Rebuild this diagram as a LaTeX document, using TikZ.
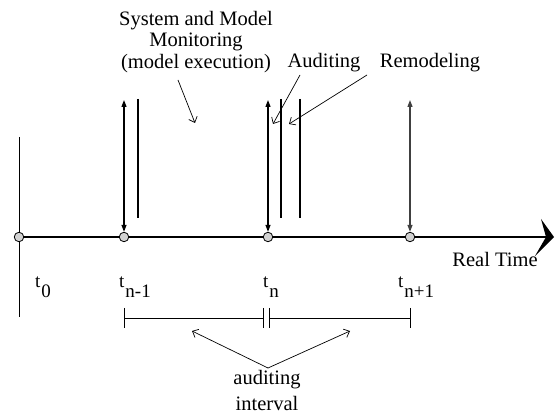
\documentclass[tikz,border=0pt]{standalone}
\usepackage{fontspec}
\setmainfont{Liberation Serif}
\usetikzlibrary{arrows.meta}
\begin{document}
\begin{tikzpicture}[x=1pt, y=-1pt,
  txt/.style={inner sep=0pt, align=center, font=\fontsize{20.5}{21.5}\selectfont},
  tlabel/.style={inner sep=0pt, anchor=base west, font=\fontsize{19}{20}\selectfont},
  instant/.style={circle, draw, fill=gray!35, inner sep=0pt, minimum size=9.5pt, line width=0.8pt},
  axisline/.style={line width=1.2pt},
  dblarrow/.style={line width=1.2pt, {Triangle[length=7pt,width=5pt]}-{Triangle[length=7pt,width=5pt]}},
  phasebar/.style={line width=1.8pt},
  pointer/.style={line width=0.7pt, -{Straight Barb[length=5pt,width=9pt]}},
  interval/.style={line width=1pt}]
\useasboundingbox (0,0) rectangle (555,414);

% time axis and origin
\coordinate (axend) at (546,237);
\coordinate (ltop) at (19,137);
\coordinate (lbot) at (19,317);
\draw[line width=1pt] (ltop) -- (lbot);
\node[instant] (c0) at (19,237) {};
\node[instant] (c1) at (124,237) {};
\node[instant] (c2) at (268,237) {};
\node[instant] (c3) at (410,237) {};
\draw[axisline] (c0) -- (c1) -- (c2) -- (c3) -- (axend);
\fill (541,219) -- (554,237) -- (535,256) -- (546,237) -- cycle;
\node[txt] (rt) at (495,259) {Real Time};

% monitoring instants
\coordinate (a1) at (124,100);
\coordinate (a2) at (268,100);
\coordinate (a3) at (410,100);
\draw[dblarrow] (a1) -- (c1.north);
\draw[dblarrow] (a2) -- (c2.north);
\draw[dblarrow, draw=black!75, fill=black!75] (a3) -- (c3.north);

% phase bars
\coordinate (b1t) at (138,99);  \coordinate (b1b) at (138,218);
\coordinate (b2t) at (281,99);  \coordinate (b2b) at (281,218);
\coordinate (b3t) at (300,99);  \coordinate (b3b) at (300,218);
\draw[phasebar] (b1t) -- (b1b);
\draw[phasebar] (b2t) -- (b2b);
\draw[phasebar] (b3t) -- (b3b);

% labels and pointers
\node[txt] (sys) at (196,42) {System and Model\\Monitoring\\(model execution)};
\node[txt] (aud) at (324,63) {Auditing};
\node[txt] (rem) at (430,63) {Remodeling};
\coordinate (ps) at (178,80);  \coordinate (pe) at (195,123);
\coordinate (as) at (300,75);  \coordinate (ae) at (273,124);
\coordinate (rs) at (367,75);  \coordinate (re) at (289,124);
\draw[pointer] (ps) -- (pe);
\draw[pointer] (as) -- (ae);
\draw[pointer] (rs) -- (re);

% instant labels
\node[tlabel] (t0) at (35,288) {t\kern1pt\raisebox{-10pt}{0}};
\node[tlabel] (t1) at (119,288) {t\kern1pt\raisebox{-10pt}{n-1}};
\node[tlabel] (t2) at (263,288) {t\kern1pt\raisebox{-10pt}{n}};
\node[tlabel] (t3) at (398,288) {t\kern1pt\raisebox{-10pt}{n+1}};

% auditing interval
\coordinate (i1t) at (124,308); \coordinate (i1m) at (124,319); \coordinate (i1b) at (124,328);
\coordinate (i2t) at (263,308); \coordinate (i2m) at (263,319); \coordinate (i2b) at (263,328);
\coordinate (i3t) at (269,308); \coordinate (i3m) at (269,319); \coordinate (i3b) at (269,328);
\coordinate (i4t) at (410,308); \coordinate (i4m) at (410,319); \coordinate (i4b) at (410,328);
\draw[interval] (i1t) -- (i1b) (i2t) -- (i2b) (i3t) -- (i3b) (i4t) -- (i4b);
\draw[interval] (i1m) -- (i2m) (i3m) -- (i4m);

\node[txt] (ai1) at (267,380) {auditing};
\node[txt] (ai2) at (267,403) {interval};
\coordinate (apex) at (268,368);
\coordinate (lt) at (192,331);
\coordinate (rtp) at (350,331);
\draw[pointer] (apex) -- (lt);
\draw[pointer] (apex) -- (rtp);
\end{tikzpicture}
\end{document}
